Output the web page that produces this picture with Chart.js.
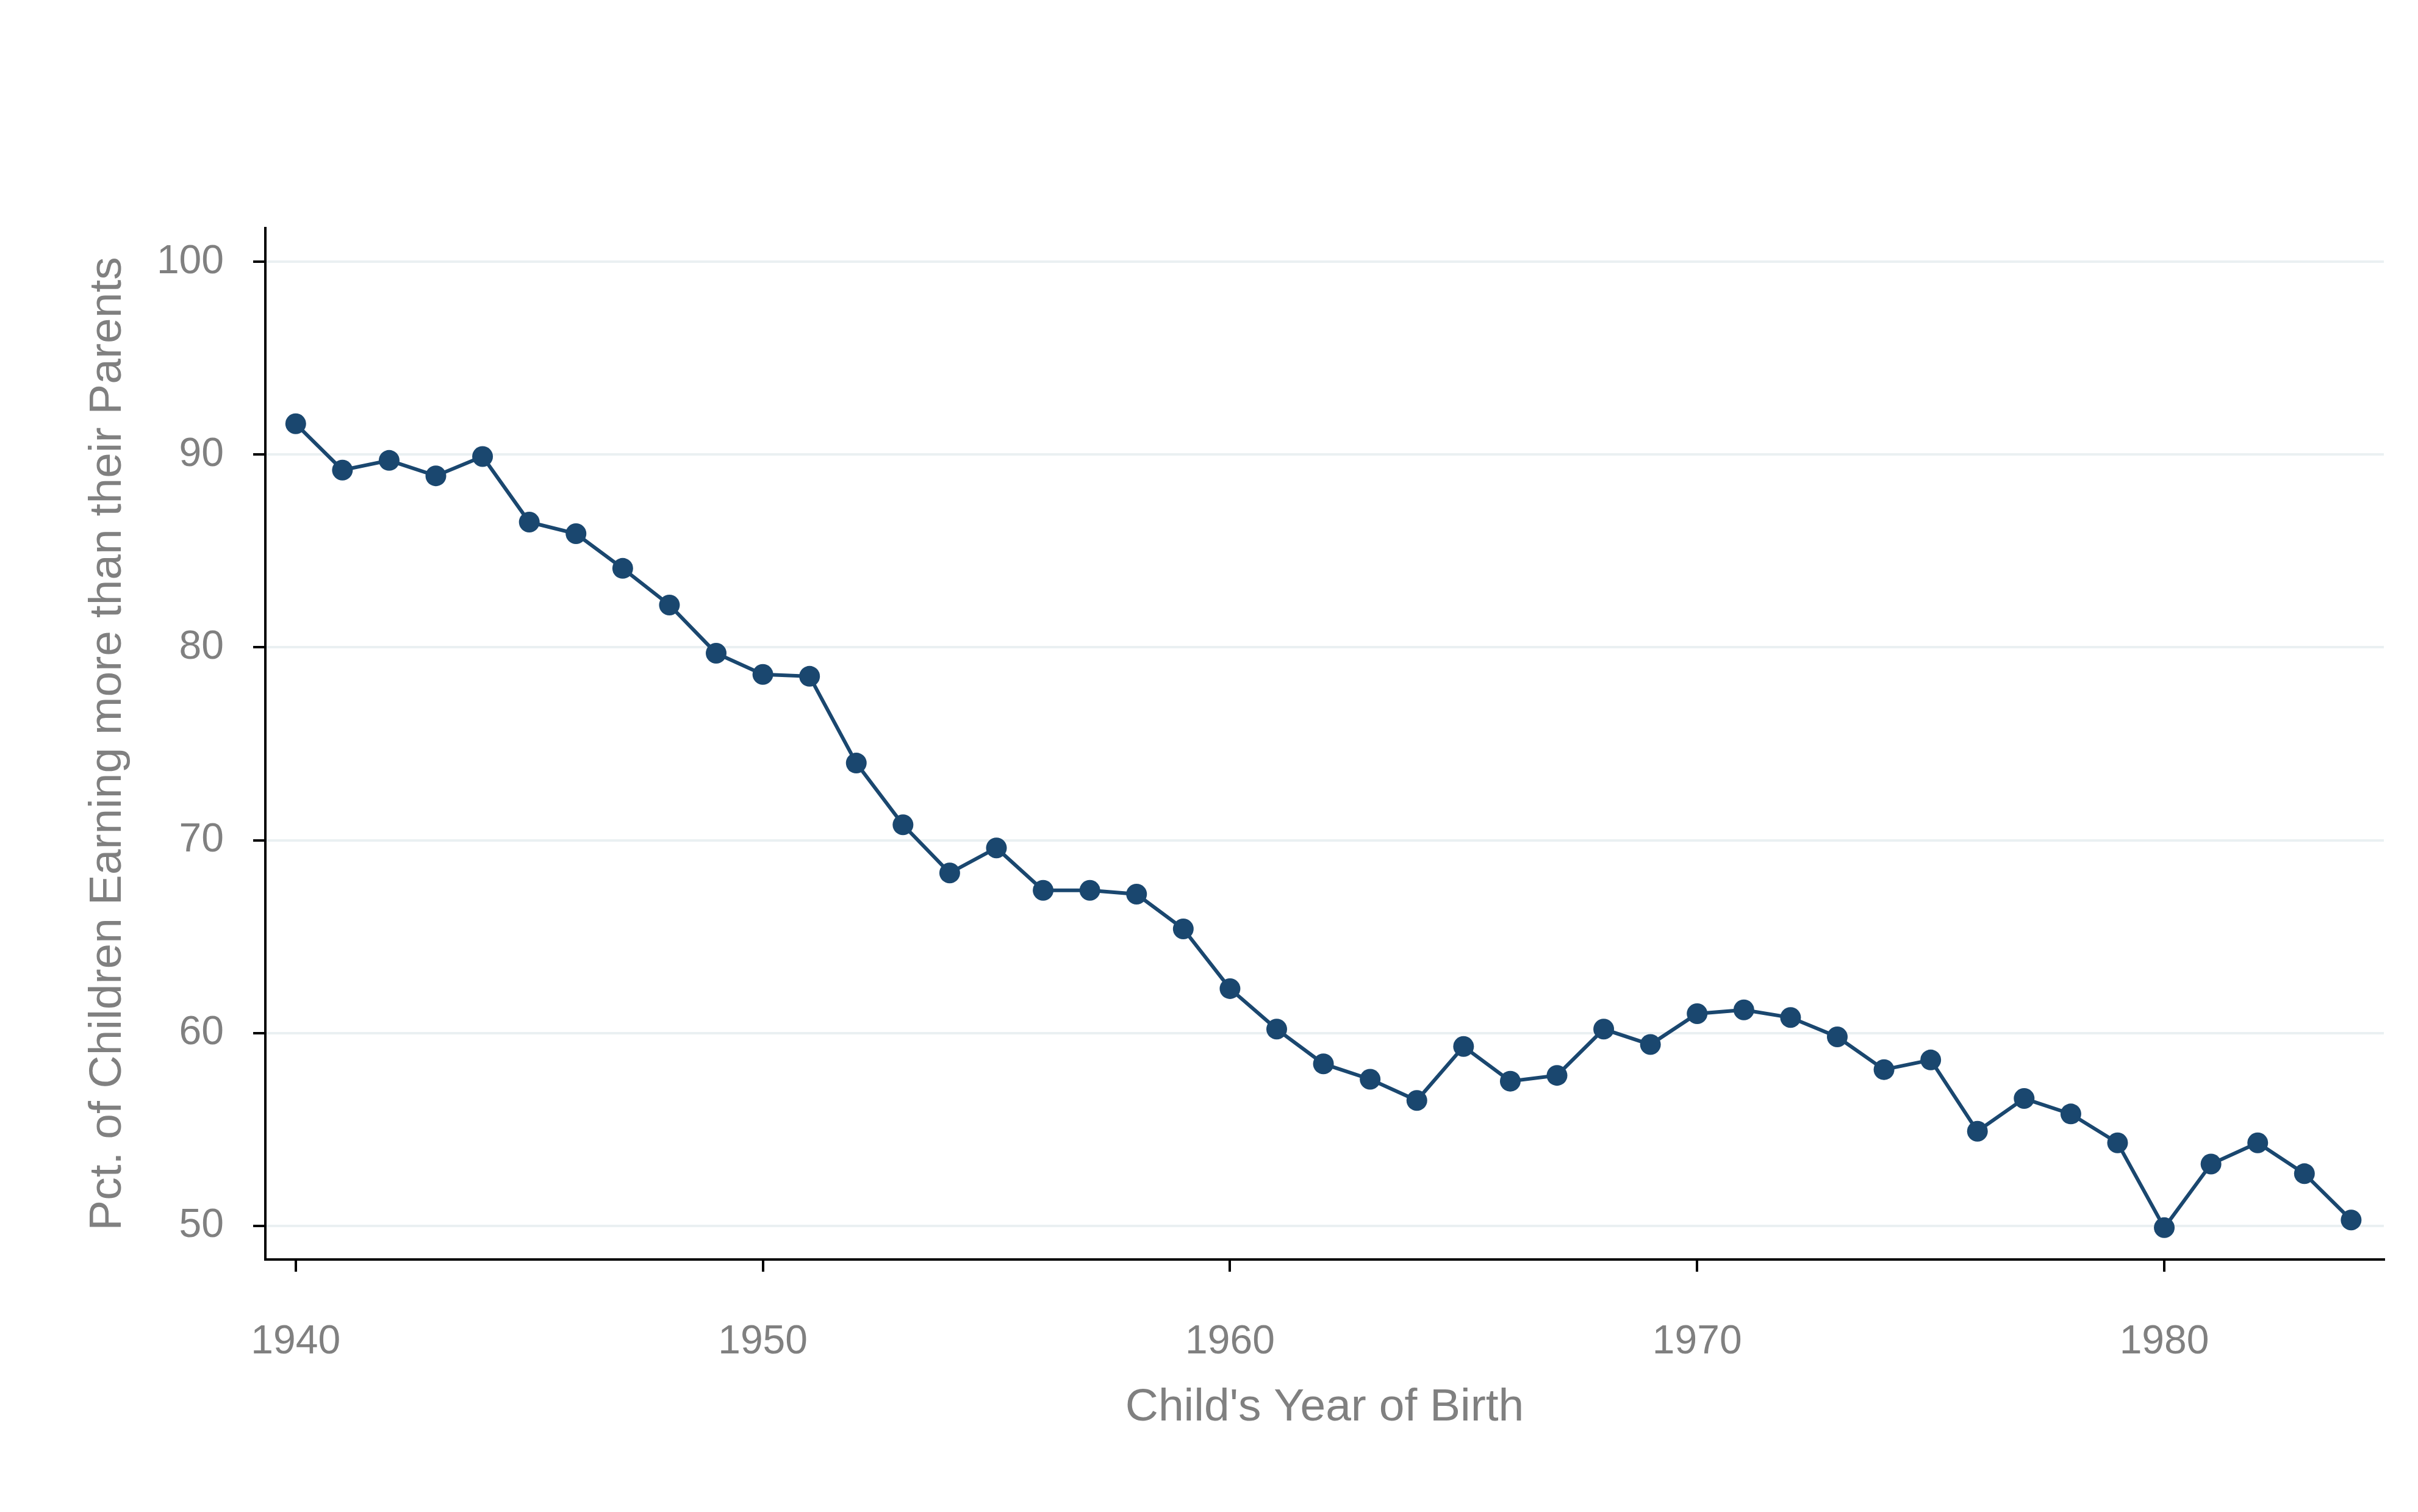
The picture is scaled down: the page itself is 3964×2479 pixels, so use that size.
<!DOCTYPE html>
<html>
<head>
<meta charset="utf-8">
<style>
  html, body { margin: 0; padding: 0; background: #fff; }
  #wrap { width: 3964px; height: 2479px; }
</style>
<script src="https://cdn.jsdelivr.net/npm/chart.js@4"></script>
</head>
<body>
<div id="wrap"><canvas id="chart1" width="3964" height="2479"></canvas></div>
<script>
var years = [];
for (var y = 1940; y <= 1984; y++) years.push(y);

var pctEarningMore = [
  91.6, 89.2, 89.7, 88.9, 89.9, 86.5, 85.9, 84.1, 82.2, 79.7,
  78.6, 78.5, 74.0, 70.8, 68.3, 69.6, 67.4, 67.4, 67.2, 65.4,
  62.3, 60.2, 58.4, 57.6, 56.5, 59.3, 57.5, 57.8, 60.2, 59.4,
  61.0, 61.2, 60.8, 59.8, 58.1, 58.6, 54.9, 56.6, 55.8, 54.3,
  49.9, 53.2, 54.3, 52.7, 50.3
];

var xTicks = [1940, 1950, 1960, 1970, 1980];
var yTicks = [50, 60, 70, 80, 90, 100];

var GREY = '#808080';
var NAVY = '#1a476f';
var FONT = '"Liberation Sans", Arial, sans-serif';

var points = years.map(function (yr, i) { return {x: yr, y: pctEarningMore[i]}; });

function keepTicks(list) {
  return function (scale) {
    scale.ticks = list.map(function (v) { return {value: v}; });
  };
}

new Chart(document.getElementById('chart1'), {
  type: 'line',
  data: {
    datasets: [{
      data: points,
      borderColor: NAVY,
      backgroundColor: NAVY,
      borderWidth: 6,
      pointRadius: 17,
      pointBorderWidth: 0,
      pointBackgroundColor: NAVY,
      tension: 0,
      fill: false
    }]
  },
  options: {
    responsive: false,
    animation: false,
    devicePixelRatio: 1,
    layout: {padding: {left: 0, top: 374, right: 56, bottom: 0}},
    plugins: {legend: {display: false}, tooltip: {enabled: false}},
    scales: {
      x: {
        type: 'linear',
        min: 1939.35,
        max: 1984.7,
        afterBuildTicks: keepTicks(xTicks),
        afterFit: function (s) { s.height = 414; },
        border: {color: '#000', width: 4},
        grid: {drawOnChartArea: false, tickColor: '#000', tickLength: 20, lineWidth: 4},
        ticks: {
          color: GREY, padding: 76, maxRotation: 0,
          font: {family: FONT, size: 66},
          callback: function (v) { return String(v); }
        },
        title: {
          display: true, text: "Child's Year of Birth", color: GREY,
          font: {family: FONT, size: 75}, padding: {top: 0, bottom: 126}
        }
      },
      y: {
        min: 48.25,
        max: 101.75,
        afterBuildTicks: keepTicks(yTicks),
        afterFit: function (s) { s.width = 435; },
        border: {color: '#000', width: 4},
        grid: {color: '#eaf0f2', lineWidth: 4, tickColor: '#000', tickLength: 20},
        ticks: {
          color: GREY, padding: 48,
          font: {family: FONT, size: 66},
          callback: function (v) { return String(v); }
        },
        title: {
          display: true, text: 'Pct. of Children Earning more than their Parents', color: GREY,
          font: {family: FONT, size: 75}, padding: {top: 132, bottom: 0}
        }
      }
    }
  }
});
</script>
</body>
</html>
